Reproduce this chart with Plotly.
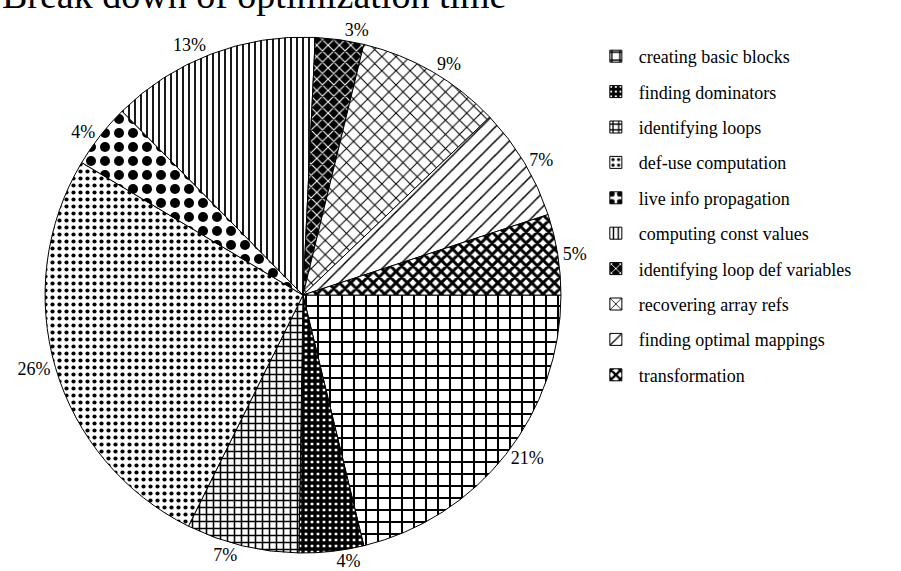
import plotly.graph_objects as go

# Share of total optimization time per phase (percent)
phases = [
    "creating basic blocks",
    "finding dominators",
    "identifying loops",
    "def-use computation",
    "live info propagation",
    "computing const values",
    "identifying loop def variables",
    "recovering array refs",
    "finding optimal mappings",
    "transformation",
]
shares = [21, 4, 7, 26, 4, 13, 3, 9, 7, 5]

# Monochrome fill patterns, one per phase: (shape, size, solidity, background, foreground)
patterns = [
    ("+", 12, 0.31, "white", "black"),
    ("+", 6, 0.8, "white", "black"),
    ("+", 7, 0.4, "white", "black"),
    (".", 7, 0.28, "white", "black"),
    (".", 14, 0.4, "white", "black"),
    ("|", 6, 0.3, "white", "black"),
    ("x", 8, 0.25, "black", "white"),
    ("x", 10, 0.2, "white", "black"),
    ("/", 10, 0.15, "white", "black"),
    ("x", 8, 0.6, "white", "black"),
]

SERIF = "Liberation Serif"


def pattern_dict(p):
    shape, size, solidity, bg, fg = p
    return dict(shape=shape, size=size, solidity=solidity, bgcolor=bg,
                fgcolor=fg, fillmode="replace")


fig = go.Figure()

fig.add_trace(go.Pie(
    labels=phases,
    values=shares,
    sort=False,
    direction="clockwise",
    rotation=90,
    texttemplate="%{value}%",
    textposition="outside",
    textfont=dict(family=SERIF, size=18, color="black"),
    marker=dict(
        colors=[p[3] for p in patterns],
        pattern=dict(
            shape=[p[0] for p in patterns],
            size=[p[1] for p in patterns],
            solidity=[p[2] for p in patterns],
            bgcolor=[p[3] for p in patterns],
            fgcolor=[p[4] for p in patterns],
            fillmode="replace",
        ),
        line=dict(color="black", width=1),
    ),
    showlegend=False,
    hoverinfo="label+percent",
    domain=dict(x=[0.0, 0.6726], y=[0.0315, 0.935]),
))

# Legend entries with the same fills, one group each so the rows can be spaced out
for name, p in zip(phases, patterns):
    fig.add_trace(go.Bar(
        x=[None], y=[None], name=name, legendgroup=name,
        marker=dict(color=p[3], pattern=pattern_dict(p),
                    line=dict(color="black", width=1)),
        showlegend=True,
    ))

fig.add_annotation(
    text="Break down of optimization time",
    xref="paper", yref="paper", x=0.0, y=1.0088,
    xanchor="left", yanchor="middle", showarrow=False,
    font=dict(family=SERIF, size=38, color="black"),
)

fig.update_layout(
    width=901, height=571,
    margin=dict(l=0, r=0, t=0, b=0, autoexpand=False),
    paper_bgcolor="white", plot_bgcolor="white",
    xaxis=dict(visible=False), yaxis=dict(visible=False),
    legend=dict(
        x=0.658, y=1 - 38 / 571, xanchor="left", yanchor="top",
        font=dict(family=SERIF, size=18, color="black"),
        tracegroupgap=9, itemwidth=36, bgcolor="rgba(0,0,0,0)",
    ),
)

fig.write_html("out.html")
